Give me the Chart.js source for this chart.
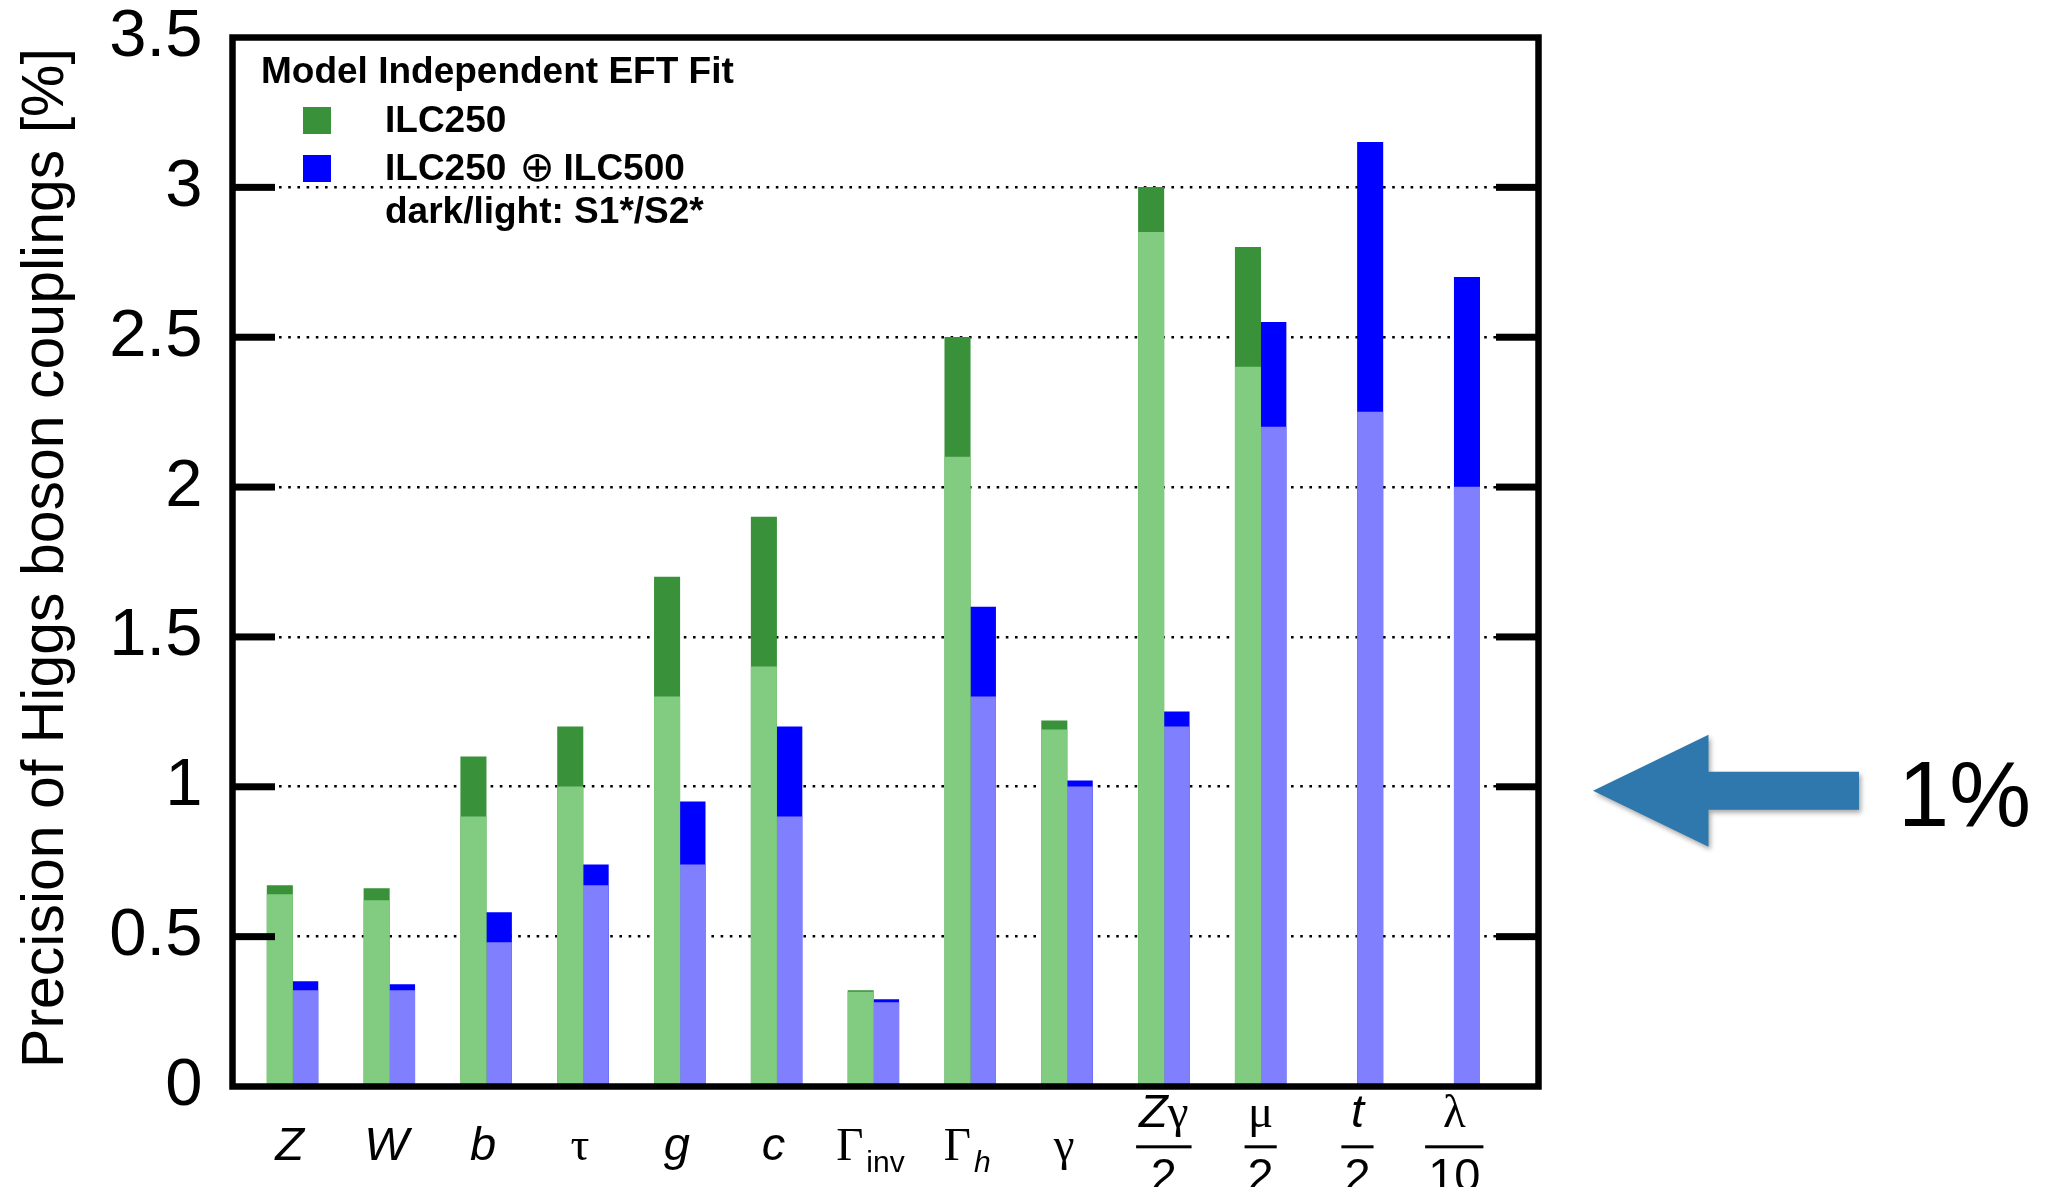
<!DOCTYPE html>
<html>
<head>
<meta charset="utf-8">
<title>Precision of Higgs boson couplings</title>
<script src="https://cdn.jsdelivr.net/npm/chart.js@4.4.1/dist/chart.umd.min.js"></script>
<style>
  html, body { margin: 0; padding: 0; background: #ffffff; overflow: hidden; }
  canvas { display: block; }
</style>
</head>
<body>
<canvas id="chart" width="2053" height="1187"></canvas>
<script>
// ---- data ---------------------------------------------------------------
const categories = ['Z', 'W', 'b', 'τ', 'g', 'c', 'Γinv', 'Γh', 'γ', 'Zγ/2', 'μ/2', 't/2', 'λ/10'];

// ILC250 alone: S1* (dark) and S2* (light) scenarios
const ilc250S1 = [0.67, 0.66, 1.10, 1.20, 1.70, 1.90, 0.32, 2.50, 1.22, 3.00, 2.80, null, null];
const ilc250S2 = [0.64, 0.62, 0.90, 1.00, 1.30, 1.40, 0.315, 2.10, 1.19, 2.85, 2.40, null, null];

// ILC250 + ILC500 combined: S1* (dark) and S2* (light) scenarios
const ilc500S1 = [0.35, 0.34, 0.58, 0.74, 0.95, 1.20, 0.29, 1.60, 1.02, 1.25, 2.55, 3.15, 2.70];
const ilc500S2 = [0.32, 0.32, 0.48, 0.67, 0.74, 0.90, 0.28, 1.30, 1.00, 1.20, 2.20, 2.25, 2.00];

// x tick labels as styled text runs; "den" is a denominator under a fraction bar
const tickLabels = [
  { num: [['Z', 'it']] },
  { num: [['W', 'it']] },
  { num: [['b', 'it']] },
  { num: [['τ', 'gr']] },
  { num: [['g', 'it']] },
  { num: [['c', 'it']] },
  { num: [['Γ', 'gr'], ['inv', 'sub']] },
  { num: [['Γ', 'gr'], ['h', 'subit']] },
  { num: [['γ', 'gr']] },
  { num: [['Z', 'it'], ['γ', 'gr']], den: '2' },
  { num: [['μ', 'gr']], den: '2' },
  { num: [['t', 'it']], den: '2' },
  { num: [['λ', 'gr']], den: '10' }
];

const seriesNames = ['ILC250', 'ILC500'];
const legendTitle = 'Model Independent EFT Fit';
const legendNote = 'dark/light: S1*/S2*';
const yTitle = 'Precision of Higgs boson couplings [%]';
const calloutText = '1%';
const calloutValue = 1;

// ---- styles -------------------------------------------------------------
const SANS = '"Liberation Sans", Arial, Helvetica, sans-serif';
const SERIF = '"Liberation Serif", "Times New Roman", serif';
const DARK_GREEN = '#399139';
const LIGHT_GREEN = '#82cc82';
const DARK_BLUE = '#0000ff';
const LIGHT_BLUE = '#8080ff';
const BAR_W = 25.4;

const runFonts = {
  it: { font: 'italic 47px ' + SANS, dy: 0 },
  gr: { font: '47px ' + SERIF, dy: 0 },
  sub: { font: '30px ' + SANS, dy: 12, gap: 3 },
  subit: { font: 'italic 30px ' + SANS, dy: 12, gap: 3 }
};

const points = (arr) => arr.map((v, i) => ({ x: i, y: v }));

const barDefaults = { barThickness: BAR_W, borderWidth: 0, grouped: true };

// draws a sequence of styled runs centred on cx, baseline y
function drawRuns(ctx, runs, cx, y) {
  let total = 0;
  const widths = runs.map(([t, s]) => {
    ctx.font = runFonts[s].font;
    const w = ctx.measureText(t).width + (runFonts[s].gap || 0);
    total += w;
    return w;
  });
  let x = cx - total / 2;
  runs.forEach(([t, s], i) => {
    const f = runFonts[s];
    ctx.font = f.font;
    ctx.fillText(t, x + (f.gap || 0), y + f.dy);
    x += widths[i];
  });
  return total;
}

const decorations = {
  id: 'decorations',
  afterDraw(chart) {
    const ctx = chart.ctx;
    const { left, right, top, bottom } = chart.chartArea;
    const xs = chart.scales.x;
    const ys = chart.scales.y;
    ctx.save();

    // frame around the plot
    ctx.strokeStyle = '#000';
    ctx.lineWidth = 6.5;
    ctx.strokeRect(left, top, right - left, bottom - top);

    // inner tick marks on both vertical sides
    ctx.fillStyle = '#000';
    ys.ticks.forEach((t) => {
      if (t.value <= ys.min || t.value >= ys.max) return;
      const py = ys.getPixelForValue(t.value);
      ctx.fillRect(left, py - 3.5, 42.5, 7);
      ctx.fillRect(right - 42.5, py - 3.5, 42.5, 7);
    });

    // y axis title
    ctx.save();
    ctx.translate(63, (top + bottom) / 2 - 4);
    ctx.rotate(-Math.PI / 2);
    ctx.textAlign = 'center';
    ctx.textBaseline = 'alphabetic';
    ctx.font = '59px ' + SANS;
    ctx.fillText(yTitle, 0, 0);
    ctx.restore();

    // legend block
    ctx.textAlign = 'left';
    ctx.textBaseline = 'alphabetic';
    ctx.font = 'bold 37px ' + SANS;
    ctx.fillText(legendTitle, 261, 83);
    ctx.fillStyle = DARK_GREEN;
    ctx.fillRect(303, 107, 28, 27);
    ctx.fillStyle = DARK_BLUE;
    ctx.fillRect(303, 155, 28, 27);
    ctx.fillStyle = '#000';
    ctx.fillText(seriesNames[0], 385, 131.5);
    ctx.fillText(seriesNames[0], 385, 180);
    ctx.fillText(seriesNames[1], 563.5, 180);
    ctx.font = '42px "DejaVu Sans", ' + SANS;
    ctx.textAlign = 'center';
    ctx.fillText('⊕', 537, 181);
    ctx.textAlign = 'left';
    ctx.font = 'bold 37px ' + SANS;
    ctx.fillText(legendNote, 385, 223);

    // x tick labels
    ctx.fillStyle = '#000';
    tickLabels.forEach((lab, i) => {
      const cx = xs.getPixelForValue(i);
      if (!lab.den) {
        drawRuns(ctx, lab.num, cx - 3, 1160);
      } else {
        const wn = drawRuns(ctx, lab.num, cx, 1127);
        ctx.font = '47px ' + SANS;
        ctx.textAlign = 'center';
        const wd = ctx.measureText(lab.den).width;
        ctx.fillText(lab.den, cx, 1191);
        ctx.textAlign = 'left';
        const bw = Math.max(wn, wd) + 6;
        ctx.fillRect(cx - bw / 2, 1145.3, bw, 3);
      }
    });

    // callout arrow pointing at the 1% level
    const ay = ys.getPixelForValue(calloutValue) + 4;
    ctx.save();
    ctx.shadowColor = 'rgba(0,0,0,0.35)';
    ctx.shadowBlur = 5;
    ctx.shadowOffsetX = 2;
    ctx.shadowOffsetY = 3;
    ctx.fillStyle = '#2f78ad';
    ctx.beginPath();
    ctx.moveTo(1593, ay);
    ctx.lineTo(1708.5, ay - 56);
    ctx.lineTo(1708.5, ay - 19);
    ctx.lineTo(1859, ay - 19);
    ctx.lineTo(1859, ay + 19);
    ctx.lineTo(1708.5, ay + 19);
    ctx.lineTo(1708.5, ay + 56);
    ctx.closePath();
    ctx.fill();
    ctx.restore();

    ctx.fillStyle = '#000';
    ctx.font = '92px ' + SANS;
    ctx.textAlign = 'left';
    ctx.fillText(calloutText, 1898, ay + 35);

    ctx.restore();
  }
};

new Chart(document.getElementById('chart').getContext('2d'), {
  type: 'bar',
  data: {
    datasets: [
      { ...barDefaults, label: seriesNames[0] + ' S2*', data: points(ilc250S2), backgroundColor: LIGHT_GREEN, stack: 'ilc250' },
      { ...barDefaults, label: seriesNames[0] + ' S1*', data: points(ilc250S1), backgroundColor: DARK_GREEN, stack: 'ilc250' },
      { ...barDefaults, label: seriesNames[0] + ' ⊕ ' + seriesNames[1] + ' S2*', data: points(ilc500S2), backgroundColor: LIGHT_BLUE, stack: 'ilc500' },
      { ...barDefaults, label: seriesNames[0] + ' ⊕ ' + seriesNames[1] + ' S1*', data: points(ilc500S1), backgroundColor: DARK_BLUE, stack: 'ilc500' }
    ]
  },
  options: {
    responsive: false,
    animation: false,
    devicePixelRatio: 1,
    layout: { padding: { top: 37.5, right: 514.5, bottom: 100.5, left: 0 } },
    plugins: { legend: { display: false }, tooltip: { enabled: false } },
    scales: {
      x: {
        type: 'linear',
        display: false,
        offset: false,
        stacked: true,
        min: -0.62,
        max: 12.87,
        afterBuildTicks: (s) => { s.ticks = categories.map((_, i) => ({ value: i })); }
      },
      y: {
        min: 0,
        max: 3.5,
        stacked: false,
        ticks: {
          stepSize: 0.5,
          padding: 30,
          color: '#000',
          font: { family: SANS, size: 67, lineHeight: 1 },
          callback: (v) => String(v)
        },
        grid: { color: '#000', lineWidth: 2.6, drawTicks: false },
        border: { display: false, dash: [2.6, 6.6] },
        afterFit: (s) => {
          s.width = 232.5;
          s.paddingTop = 0;
          s.paddingBottom = 0;
        }
      }
    }
  },
  plugins: [decorations]
});
</script>
</body>
</html>
